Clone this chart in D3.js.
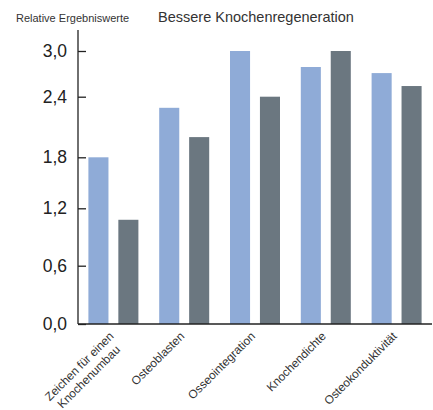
<!DOCTYPE html>
<html><head><meta charset="utf-8">
<script src="https://cdn.jsdelivr.net/npm/d3@7"></script>
<style>body{margin:0;background:#fff;}svg{display:block;font-family:"Liberation Sans",Arial,sans-serif;}</style>
</head><body>
<svg id="c" width="433" height="410"></svg>
<script>
const categories = ["Zeichen für einen\nKnochenumbau","Osteoblasten","Osseointegration","Knochendichte","Osteokonduktivität"];
const seriesA = [1.8, 2.29, 3.0, 2.79, 2.71];
const seriesB = [1.08, 2.0, 2.4, 3.0, 2.54];
const tickValues = [0, 0.6, 1.2, 1.8, 2.4, 3.0];
const tickLabels = ["0,0","0,6","1,2","1,8","2,4","3,0"];
const title = "Bessere Knochenregeneration";
const yTitle = "Relative Ergebniswerte";

const svg = d3.select("#c");
const left = 78, right = 432, bottom = 324;
const y = d3.scaleLinear().domain(tickValues).range([324, 265.7, 208.3, 157.3, 96.7, 51]);
const x = d3.scaleBand().domain(categories).range([left, right]).padding(0);
const inner = d3.scaleBand().domain(["a","b"]).range([-25, 25]).paddingInner(0.33);

const g = svg.append("g");
categories.forEach((c, i) => {
  const cx = x(c) + x.bandwidth()/2;
  [["a", seriesA[i], "#8fabd7"], ["b", seriesB[i], "#6b7780"]].forEach(([k, v, col]) => {
    g.append("rect")
      .attr("x", cx + inner(k))
      .attr("width", inner.bandwidth())
      .attr("y", y(v))
      .attr("height", y(0) - y(v))
      .attr("fill", col);
  });
});

// y axis
const yAxis = d3.axisLeft(y).tickValues(tickValues).tickFormat((d,i)=>tickLabels[i]).tickSize(-8).tickPadding(11);
const ya = svg.append("g").attr("transform", `translate(${left},0)`).call(yAxis);
ya.select(".domain").remove();
ya.selectAll(".tick line").attr("stroke", "#222").attr("stroke-width", 1.3);
ya.selectAll(".tick text").attr("font-size", "17.5px").attr("fill", "#222").attr("font-family", "Liberation Sans, Arial, sans-serif");
svg.append("line").attr("x1", left).attr("x2", left).attr("y1", 30).attr("y2", bottom).attr("stroke", "#222").attr("stroke-width", 1.3);

// x axis
svg.append("line").attr("x1", left).attr("x2", right).attr("y1", bottom).attr("y2", bottom).attr("stroke", "#222").attr("stroke-width", 1.3);
categories.forEach((c) => {
  const cx = x(c) + x.bandwidth()/2 - 2;
  const lines = c.split("\n");
  const t = svg.append("text")
    .attr("transform", `translate(${cx},${334}) rotate(-45)`)
    .attr("text-anchor", "end")
    .attr("font-size", "11.8px")
    .attr("fill", "#333");
  lines.forEach((l, j) => {
    t.append("tspan").attr("x", j === 0 ? 0 : -5).attr("dy", j === 0 ? "0.35em" : "1.2em").text(l);
  });
});

svg.append("text").attr("x", 16).attr("y", 22).attr("font-size", "11px").attr("fill", "#333").text(yTitle);
svg.append("text").attr("x", 158).attr("y", 22).attr("font-size", "14.5px").attr("fill", "#333").text(title);
</script>
</body></html>
